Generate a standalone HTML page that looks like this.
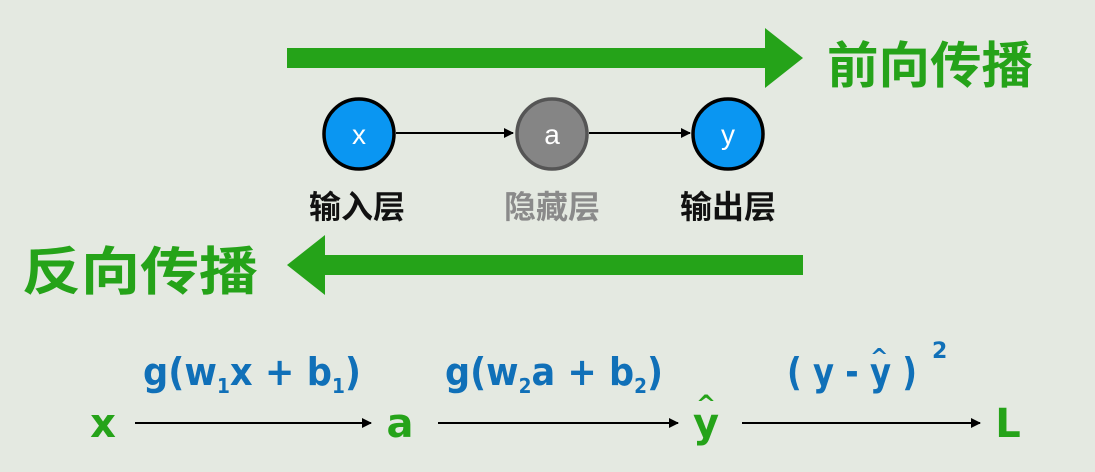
<!DOCTYPE html>
<html><head><meta charset="utf-8"><style>
html,body{margin:0;padding:0;background:#e4e9e1;}
svg{display:block}
</style></head><body>
<svg width="1095" height="472" viewBox="0 0 1095 472" xmlns="http://www.w3.org/2000/svg">
<rect width="1095" height="472" fill="#e4e9e1"/>
<defs><marker id="ah" markerWidth="10" markerHeight="10" refX="9" refY="5" orient="auto" markerUnits="userSpaceOnUse"><path d="M0,0 L10,5 L0,10 Z" fill="#000"/></marker></defs>
<rect x="287" y="48" width="480" height="20" fill="#25a319"/>
<polygon points="765,28 803,58 765,88" fill="#25a319"/>
<text x="827" y="83" textLength="206" lengthAdjust="spacingAndGlyphs" font-family="Liberation Sans, Noto Sans CJK SC, sans-serif" font-size="50" font-weight="bold" fill="#25a319">前向传播</text>
<rect x="323" y="255" width="480" height="20" fill="#25a319"/>
<polygon points="325,235 287,265 325,295" fill="#25a319"/>
<text x="22" y="290" textLength="236" lengthAdjust="spacingAndGlyphs" font-family="Liberation Sans, Noto Sans CJK SC, sans-serif" font-size="52" font-weight="bold" fill="#25a319">反向传播</text>
<line x1="396" y1="133" x2="513" y2="133" stroke="#000" stroke-width="2" marker-end="url(#ah)"/>
<line x1="589" y1="133" x2="690" y2="133" stroke="#000" stroke-width="2" marker-end="url(#ah)"/>
<circle cx="359" cy="134" r="35" fill="#0a96f2" stroke="#000" stroke-width="3.5"/>
<circle cx="552" cy="134" r="35" fill="#858585" stroke="#555" stroke-width="3.5"/>
<circle cx="728" cy="134" r="35" fill="#0a96f2" stroke="#000" stroke-width="3.5"/>
<g font-family="Liberation Sans, sans-serif" font-size="28" fill="#fff" text-anchor="middle">
<text x="359" y="144">x</text><text x="552" y="144">a</text><text x="728" y="144">y</text></g>
<g font-family="Liberation Sans, Noto Sans CJK SC, sans-serif" font-size="32" font-weight="bold" text-anchor="middle">
<text x="357" y="218" fill="#111">输入层</text>
<text x="552" y="218" fill="#8a8a8a">隐藏层</text>
<text x="728" y="218" fill="#111">输出层</text></g>
<g font-family="DejaVu Sans, sans-serif" font-size="40" font-weight="bold" fill="#25a319" text-anchor="middle">
<text x="103" y="437">x</text><text x="400" y="437">a</text><text x="706" y="437">y</text>
<text x="706" y="412" font-size="24">^</text><text x="1008" y="437">L</text></g>
<line x1="135" y1="423" x2="371" y2="423" stroke="#000" stroke-width="2" marker-end="url(#ah)"/>
<line x1="438" y1="423" x2="678" y2="423" stroke="#000" stroke-width="2" marker-end="url(#ah)"/>
<line x1="742" y1="423" x2="980" y2="423" stroke="#000" stroke-width="2" marker-end="url(#ah)"/>
<g font-family="DejaVu Sans, sans-serif" font-size="38" font-weight="bold" fill="#1070b8">
<text x="143" y="385" textLength="218" lengthAdjust="spacingAndGlyphs">g(w<tspan font-size="20" dy="8">1</tspan><tspan dy="-8">x + b</tspan><tspan font-size="20" dy="8">1</tspan><tspan dy="-8">)</tspan></text>
<text x="445" y="385" textLength="218" lengthAdjust="spacingAndGlyphs">g(w<tspan font-size="20" dy="8">2</tspan><tspan dy="-8">a + b</tspan><tspan font-size="20" dy="8">2</tspan><tspan dy="-8">)</tspan></text>
<text x="787" y="385" textLength="130" lengthAdjust="spacingAndGlyphs">( y - y )</text>
<text x="932" y="358" font-size="22">2</text>
<text x="870" y="364" font-size="22">^</text></g>
</svg>
</body></html>
